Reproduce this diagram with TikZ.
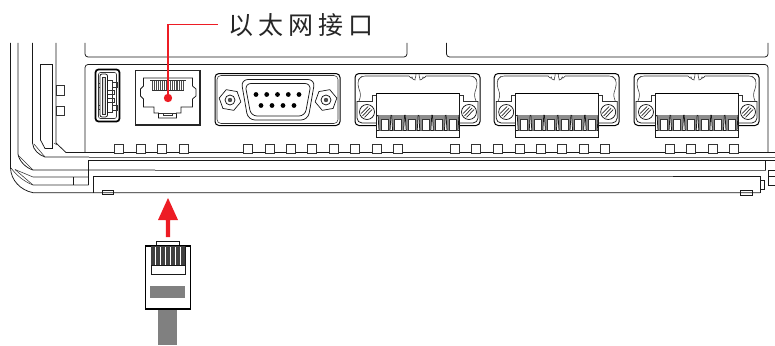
\documentclass[tikz,border=0pt]{standalone}
\usepackage{fontspec}
\newfontfamily\cjkfont[LetterSpace=20]{Noto Sans CJK SC}
\definecolor{alarm}{HTML}{ED1C24}
\definecolor{plug}{HTML}{808080}
\tikzset{
  ln/.style={draw=black!90,line width=0.75pt},
  thin ln/.style={draw=black!80,line width=0.55pt},
  grey ln/.style={draw=black!60,line width=0.8pt},
  led/.style={draw=black!80,line width=0.7pt,fill=white},
  redline/.style={draw=alarm,line width=1.1pt},
  hexa/.style={draw=black!90,line width=0.7pt,fill=white}
}
\begin{document}
\begin{tikzpicture}[x=1pt,y=-1pt]
\useasboundingbox (0,0) rectangle (775,345);
% upper brackets
\draw[ln,rounded corners=3pt] (85,43) -- (85,57) -- (407,57) -- (407,43);
\draw[ln,rounded corners=3pt] (446.5,43) -- (446.5,57) -- (768,57) -- (768,43);
% housing
\draw[ln,rounded corners=3pt] (85,152) -- (85,64.5) -- (768,64.5) -- (768,152.5);
\draw[ln] (66,152.5) -- (775,152.5);
% outer corner
\draw[ln] (10.5,43) -- (10.5,168) .. controls (11,180) and (20,190) .. (33,192.7) -- (760,192.7);
\draw[thin ln] (11,168) .. controls (17,176) and (25,182) .. (33,185) -- (88.5,185);
\draw[thin ln] (15,169.5) -- (33,177) -- (88.5,177);
\draw[thin ln] (15,169.5) -- (33,185);
% second corner
\draw[ln] (18,43) -- (18,154) .. controls (19,161) and (26,168) .. (33,170) -- (155,170);
\draw[thin ln] (19,156) -- (33,170);
\draw[grey ln] (155,170) -- (765.5,170);
\draw[ln] (768,170) -- (775,170);
% third corner
\draw[ln] (32.5,43) -- (32.5,143) .. controls (33,150) and (39,155) .. (45,157) -- (89,157);
\draw[thin ln] (34,144) -- (45,157);
\draw[grey ln] (89,157) -- (775,157);
% fourth corner and side piece
\draw[ln] (56,43) -- (56,143) -- (66,152.5);
\draw[thin ln] (57,145) -- (54,143);
\draw[ln] (40.5,140) -- (40.5,64.5) -- (52.5,64.5) -- (52.5,148.5) -- (45,148.5) -- (40.5,140);
\draw[ln] (73,177) -- (73,185);
% inner frame
\draw[ln] (88.5,185) -- (88.5,160.5) -- (775,160.5);
\draw[ln] (93,192.7) -- (93,176.7) -- (180,176.7);
\draw[grey ln] (180,176.7) -- (673,176.7);
\draw[ln] (673,176.7) -- (760,176.7) -- (760,192.7);
\draw[ln] (765.5,160.5) -- (765.5,170);
\draw[ln] (768,170) -- (768,185) -- (775,185);
\draw[ln] (768,176.7) -- (775,176.7);
\draw[ln] (102,190) rectangle (113,194.5);
\draw[ln] (740,190) rectangle (752,195);
\draw[ln] (760,180.7) rectangle (764.5,189.5);
% side squares
\draw[led] (56,85.5) rectangle (64,95);
\draw[led] (56,106) rectangle (64,115);
% LEDs
\foreach \x in {114.5,136,157.5,179,243.5,265,286,307.5,329,350,372,393,450,471,493,515,536,557,579,600,665,686.5,708,729}
  \draw[led] (\x,144) rectangle ++(9,9);
% USB
\draw[draw=black,line width=1.7pt,rounded corners=3pt] (95.5,69.5) rectangle (119.5,121.5);
\draw[thin ln,rounded corners=2pt] (98.5,72.5) rectangle (116.5,118.5);
\draw[ln,rounded corners=2pt] (100,74) rectangle (107.5,117);
\draw[thin ln,fill=black!15] (102.5,77) rectangle (105,114);
\draw[thin ln] (107.5,80) -- (112,80) -- (112,112) -- (107.5,112);
\draw[thin ln] (112,82) rectangle (117.5,87);
\draw[thin ln] (108,90) -- (114,90) -- (114,94) -- (108,94);
\draw[thin ln] (108,98) -- (114,98) -- (114,102) -- (108,102);
\draw[thin ln] (112,105) rectangle (117.5,110);
\draw[thin ln] (98.5,83) -- (100,83) (98.5,87) -- (100,87) (98.5,105) -- (100,105) (98.5,109) -- (100,109);
% RJ45 port
\draw[draw=black!85,line width=1.3pt] (135.5,70.5) rectangle (200,125);
\draw[ln] (143.5,86) -- (143.5,78) -- (192.5,78) -- (192.5,86) -- (196,89) -- (196,96) -- (192.5,99) -- (192.5,107) -- (181,107) -- (181,113) -- (176.5,113) -- (176.5,118) -- (158.5,118) -- (158.5,113) -- (154,113) -- (154,107) -- (143.5,107) -- (143.5,99) -- (140.5,96) -- (140.5,89) -- cycle;
\draw[thin ln] (150,80.5) -- (186,80.5);
\draw[thin ln] (158.5,113) -- (176.5,113);
\draw[thin ln] (163,113) -- (163,115.5) -- (172,115.5) -- (172,113);
\foreach \x in {0,1,...,16}
  \draw[draw=black!70,line width=0.8pt] ({152.5+\x*1.95},81) -- ({152.5+\x*1.95},90);
\draw[thin ln] (152,90) -- (184,90);
% DB9
\draw[draw=black,line width=1pt,rounded corners=4pt] (215,73.5) rectangle (340,125.5);
\draw[thin ln,rounded corners=4pt] (217,75.5) rectangle (338,123.5);
\draw[ln,fill=white,rounded corners=7pt] (241,79.5) -- (315,79.5) -- (308,120) -- (248,120) -- cycle;
\draw[ln,rounded corners=6pt] (245,83.5) -- (311,83.5) -- (305,116) -- (251,116) -- cycle;
\foreach \x/\a in {230/10,326/-10}{
  \draw[hexa] (\x,100) +(\a+0:11) -- +(\a+60:11) -- +(\a+120:11) -- +(\a+180:11) -- +(\a+240:11) -- +(\a+300:11) -- cycle;
  \draw[ln] (\x,100) circle (5);
  \fill[black!70] (\x,100) circle (2.2);
}
\foreach \x in {256,266.7,277.5,288.3,299}
  \fill (\x,94.5) circle (2.4);
\foreach \x in {261,272,283,294}
  \fill (\x,105.5) circle (2.4);
% terminal blocks
\foreach \dx in {0,139.2,279}{
\begin{scope}[xshift=\dx pt]
  \draw[draw=black,line width=1pt,rounded corners=4pt] (355,73.5) rectangle (480,125.5);
  \draw[thin ln,rounded corners=3pt] (359,101) -- (361,95) -- (358,86) -- (358,80) -- (362,76) -- (406,76) .. controls (409,76) and (412,80) .. (412,80) .. controls (414,80) and (416,78) .. (416,74);
  \draw[thin ln,rounded corners=3pt] (476,101) -- (474,95) -- (477,86) -- (477,80) -- (473,76) -- (429,76) .. controls (426,76) and (423,80) .. (423,80) .. controls (421,80) and (419,78) .. (419,74);
  \draw[thin ln] (357,101) -- (372,101) -- (372,95) -- (376,95);
  \draw[thin ln] (478,101) -- (463,101) -- (463,95) -- (459,95);
  \draw[ln,rounded corners=5pt] (357,101) -- (357,123) -- (376,123);
  \draw[ln,rounded corners=5pt] (478,101) -- (478,123) -- (459,123);
  \foreach \c in {367,469}{
    \draw[ln,fill=white] (\c,112) circle (7.5);
    \draw[draw=black!85,line width=0.7pt] (\c-4.5,116) -- (\c+3,108);
    \draw[draw=black!85,line width=0.7pt] (\c-2.5,117.5) -- (\c+5,109.5);
    \draw[draw=black!85,line width=0.7pt] (\c-6,113.5) -- (\c+1,106.5);
  }
  \draw[ln,fill=white] (376.5,93.5) rectangle (459,137.5);
  \draw[draw=black,line width=0.9pt] (376.5,93.5) -- (459,93.5);
  \draw[ln] (376.5,115) -- (459,115);
  \draw[ln] (376.5,130.5) -- (459,130.5);
  \foreach \i in {0,...,5}{
    \path[fill=black!45] ({378+\i*13.6},115) -- ({391+\i*13.6},115) -- ({390+\i*13.6},130.5) -- ({379+\i*13.6},130.5) -- cycle;
    \draw[ln] ({378+\i*13.6},115) -- ({379+\i*13.6},130.5) ({391+\i*13.6},115) -- ({390+\i*13.6},130.5);
    \draw[fill=white,draw=black!80,line width=0.45pt] ({381+\i*13.6},119) rectangle ({388+\i*13.6},130.5);
  }
\end{scope}}
% Label and red leader
\node[circle,fill=alarm,inner sep=0pt,minimum size=8.4pt] (dot) at (168,98) {};
\node[anchor=west,inner sep=0pt,font=\cjkfont\fontsize{25}{25}\selectfont,text=black!85] (label) at (228,25) {以太网接口};
\coordinate (elbow) at (218,24.5);
\draw[redline] (dot) |- (elbow);
% plug
\fill[plug] (158,309) rectangle (177,345);
\draw[ln,fill=white] (156.5,241.5) rectangle (179,246);
\draw[draw=black,line width=1.1pt,fill=white] (145.5,246) rectangle (190.5,309);
\draw[ln,fill=white] (151,246) rectangle (185,274);
\fill[black!75] (151,246) rectangle (185,265);
\foreach \x in {155.5,160.5,165.5,170.5,175.5,180.5}
  \fill[white] (\x-0.9,246.5) rectangle (\x+0.9,264.5);
\draw[ln] (151,265) -- (185,265);
\fill[plug] (150,286) rectangle (185,298);
\coordinate (plugtop) at (168,237);
\coordinate (arrowtip) at (168,198);
% arrow
\path[fill=alarm] (plugtop) ++(-2.2,0) -- (165.8,220) -- (158,220) -- (arrowtip) -- (178,220) -- (170.2,220) -- (170.2,237) -- cycle;
\end{tikzpicture}
\end{document}
